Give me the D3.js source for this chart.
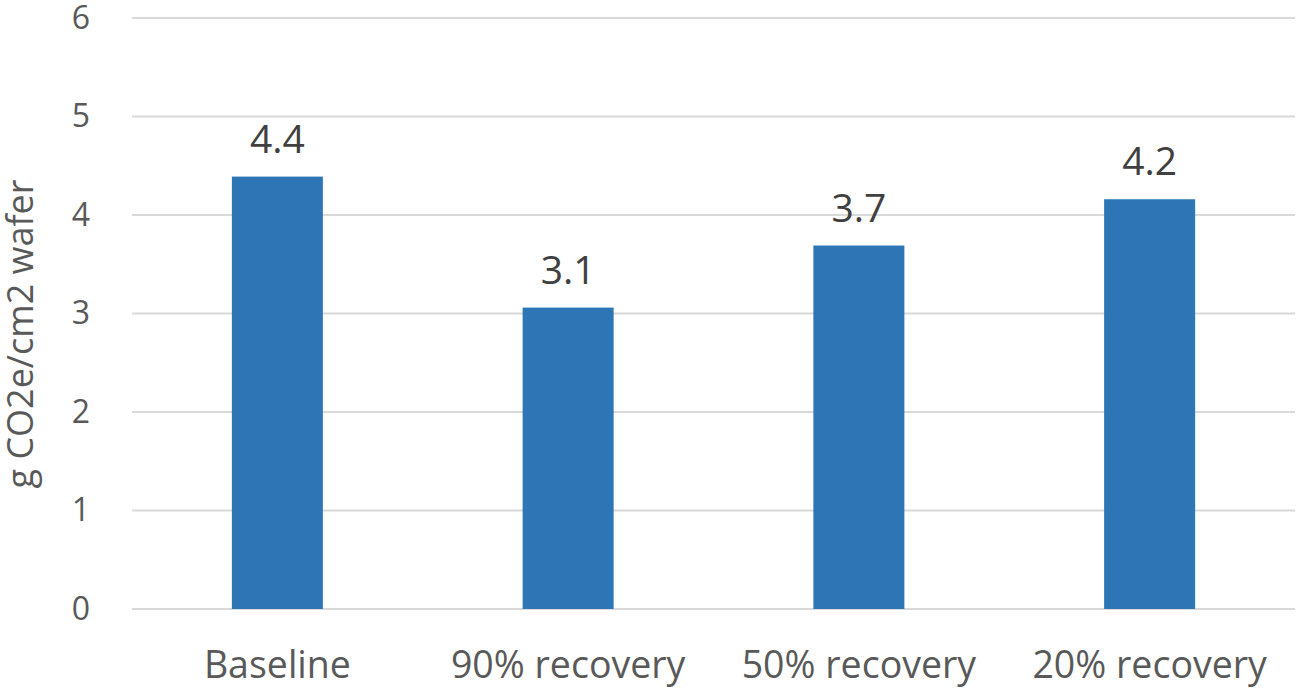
<!DOCTYPE html>
<html>
<head>
<meta charset="utf-8">
<script src="https://cdn.jsdelivr.net/npm/d3@7"></script>
<style>
  body { margin: 0; background: #fff; }
  svg { display: block; font-family: "Open Sans", sans-serif; }
</style>
</head>
<body>
<div id="chart"></div>
<script>
var categories = ["Baseline", "90% recovery", "50% recovery", "20% recovery"];
var values = [4.39, 3.06, 3.69, 4.16];
var valueLabels = ["4.4", "3.1", "3.7", "4.2"];
var yTicks = [0, 1, 2, 3, 4, 5, 6];
var yTitle = "g CO2e/cm2 wafer";

var width = 1299, height = 689;
var margin = { top: 18, right: 4, bottom: 80, left: 132 };

var svg = d3.select("#chart").append("svg")
    .attr("width", width)
    .attr("height", height);

var x = d3.scaleBand()
    .domain(categories)
    .range([margin.left, width - margin.right])
    .padding(0);

var y = d3.scaleLinear()
    .domain([0, 6])
    .range([height - margin.bottom, margin.top]);

// gridlines
svg.append("g")
    .selectAll("line")
    .data(yTicks)
    .enter().append("line")
    .attr("x1", margin.left)
    .attr("x2", width - margin.right)
    .attr("y1", function(d) { return y(d); })
    .attr("y2", function(d) { return y(d); })
    .attr("stroke", "#d9d9d9")
    .attr("stroke-width", 2);

// y axis labels
var yAxis = svg.append("g")
    .attr("transform", "translate(" + (margin.left - 42) + ",0)")
    .call(d3.axisLeft(y).tickValues(yTicks).tickSize(0).tickPadding(0).tickFormat(d3.format("d")));
yAxis.select(".domain").remove();
yAxis.selectAll("text")
    .attr("fill", "#595959")
    .attr("font-size", 32)
    .attr("font-family", "Open Sans, sans-serif");

// x axis labels
var xAxis = svg.append("g")
    .attr("transform", "translate(0," + (height - margin.bottom) + ")")
    .call(d3.axisBottom(x).tickSize(0).tickPadding(0));
xAxis.select(".domain").remove();
xAxis.selectAll("text")
    .attr("dy", "0")
    .attr("y", 69)
    .attr("fill", "#595959")
    .attr("font-size", 37.5)
    .attr("font-family", "Open Sans, sans-serif");

// bars
var barW = x.bandwidth() * 0.313;
svg.append("g")
    .selectAll("rect")
    .data(values)
    .enter().append("rect")
    .attr("x", function(d, i) { return x(categories[i]) + (x.bandwidth() - barW) / 2; })
    .attr("y", function(d) { return y(d); })
    .attr("width", barW)
    .attr("height", function(d) { return y(0) - y(d); })
    .attr("fill", "#2e75b6");

// value labels
svg.append("g")
    .selectAll("text")
    .data(values)
    .enter().append("text")
    .attr("x", function(d, i) { return x(categories[i]) + x.bandwidth() / 2; })
    .attr("y", function(d) { return y(d) - 24; })
    .attr("text-anchor", "middle")
    .attr("fill", "#404040")
    .attr("font-size", 39)
    .text(function(d, i) { return valueLabels[i]; });

// y title
svg.append("text")
    .attr("transform", "translate(33,334) rotate(-90)")
    .attr("text-anchor", "middle")
    .attr("fill", "#595959")
    .attr("font-size", 36)
    .text(yTitle);
</script>
</body>
</html>
